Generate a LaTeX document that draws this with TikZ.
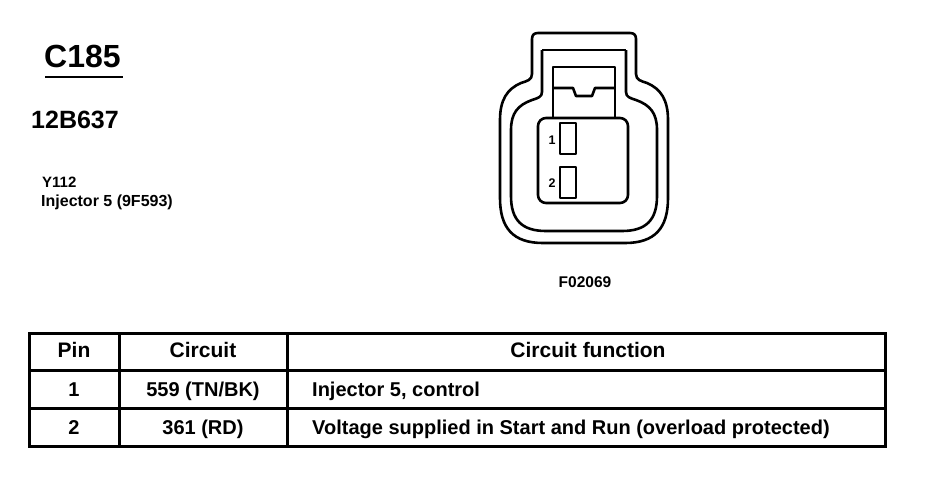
\documentclass[tikz,border=0pt]{standalone}
\usepackage{fontspec}
\setmainfont{Liberation Sans}
\begin{document}
\begin{tikzpicture}[x=1pt,y=-1pt,
  shell/.style={line width=2.6pt,line join=round},
  tline/.style={line width=3pt},
  hd/.style={font=\bfseries\fontsize{21}{24}\selectfont,anchor=base,inner sep=0pt},
  cell/.style={font=\bfseries\fontsize{20}{23}\selectfont,anchor=base,inner sep=0pt},
  lbl/.style={font=\bfseries,inner sep=0pt}]
\useasboundingbox (0,0) rectangle (928,480);
% ---- left texts
\node[lbl,anchor=base west,font=\bfseries\fontsize{32}{36}\selectfont] (c185) at (44,67) {C185};
\draw[line width=2pt] (45,77) -- (123,77);
\node[lbl,anchor=base west,font=\bfseries\fontsize{25}{28}\selectfont] (part) at (31,128) {12B637};
\node[lbl,anchor=base west,font=\bfseries\fontsize{15}{18}\selectfont] (y112) at (42,187) {Y112};
\node[lbl,anchor=base west,font=\bfseries\fontsize{16}{18}\selectfont] (inj) at (41,206) {Injector 5 (9F593)};
% ---- connector outer shell
\draw[shell] (532,74) -- (532,39) .. controls (532,35) and (534,33) .. (538,33) -- (630,33)
  .. controls (634,33) and (636,35) .. (636,39) -- (636,74)
  .. controls (636,80) and (641,81) .. (647,83) .. controls (661,89) and (668,100) .. (668,120)
  -- (668,198) .. controls (668,228) and (655,243) .. (625,243) -- (543,243)
  .. controls (513,243) and (500,228) .. (500,198) -- (500,120)
  .. controls (500,100) and (507,89) .. (521,83) .. controls (527,81) and (532,80) .. (532,74);
% inner outline
\draw[shell] (542,50) -- (626,50);
\draw[shell] (542,50) -- (542,92) .. controls (542,97) and (538,98) .. (532,100)
  .. controls (518,105) and (511,113) .. (511,130) -- (511,196)
  .. controls (511,220) and (522,231) .. (546,231) -- (622,231)
  .. controls (646,231) and (657,220) .. (657,196) -- (657,130)
  .. controls (657,113) and (650,105) .. (636,100) .. controls (630,98) and (626,97) .. (626,92) -- (626,50);
% latch
\draw[shell] (553,118) -- (553,67) -- (615,67) -- (615,118);
\draw[shell] (553,88) -- (573,88) -- (576,96) -- (592,96) -- (595,88) -- (615,88);
% pin face
\draw[shell,fill=white,rounded corners=8pt] (538,118) rectangle (628,203);
\draw[shell] (560,123) rectangle (576,154);
\draw[shell] (560,167) rectangle (576,198);
\node[lbl,font=\bfseries\fontsize{12.5}{14}\selectfont] (p1) at (552,140) {1};
\node[lbl,font=\bfseries\fontsize{12.5}{14}\selectfont] (p2) at (552,183) {2};
\node[lbl,font=\bfseries\fontsize{15.5}{18}\selectfont] (fig) at (585,282) {F02069};
% ---- table
\draw[tline] (29,333) rectangle (885,446);
\draw[tline] (29,370) -- (885,370);
\draw[tline] (29,408) -- (885,408);
\draw[tline] (119,333) -- (119,446);
\draw[tline] (287,333) -- (287,446);
\node[hd] (hpin) at (74,357) {Pin};
\node[hd] (hcir) at (203,357) {Circuit};
\node[hd] (hfun) at (588,357) {Circuit function};
\node[cell] (r1a) at (74,396) {1};
\node[cell] (r1b) at (203,396) {559 (TN/BK)};
\node[cell,anchor=base west] (r1c) at (312,396) {Injector 5, control};
\node[cell] (r2a) at (74,434) {2};
\node[cell] (r2b) at (203,434) {361 (RD)};
\node[cell,anchor=base west] (r2c) at (312,434) {Voltage supplied in Start and Run (overload protected)};
\end{tikzpicture}
\end{document}
